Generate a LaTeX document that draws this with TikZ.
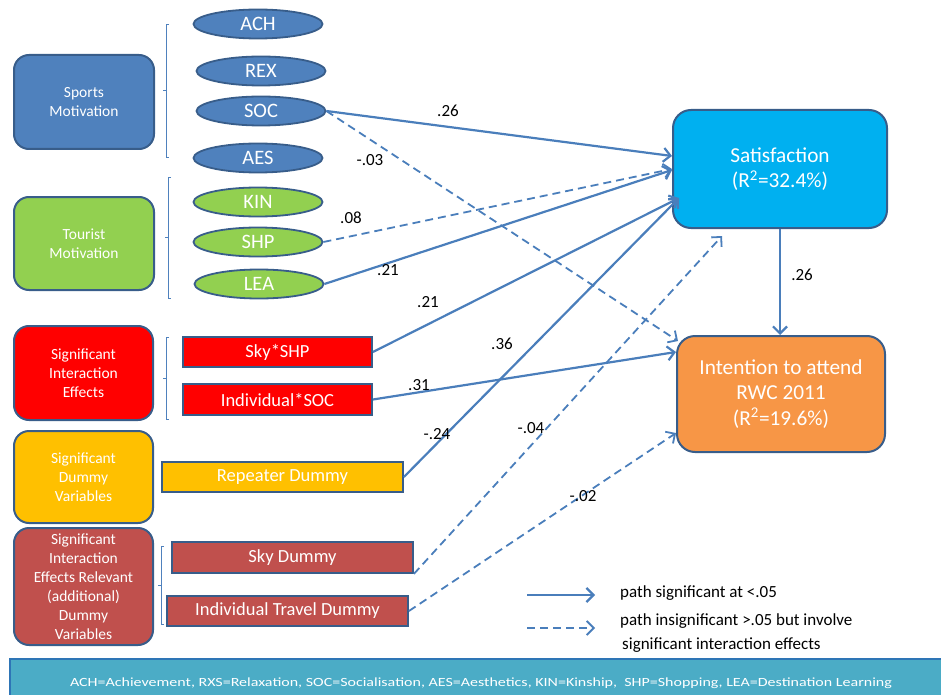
\documentclass[tikz,border=0pt]{standalone}
\usepackage{fontspec}
\setmainfont{Carlito}
\usetikzlibrary{arrows.meta,shapes.geometric,calc}

\definecolor{sportsblue}{HTML}{4F81BD}
\definecolor{edgeblue}{HTML}{385D8A}
\definecolor{touristgreen}{HTML}{92D050}
\definecolor{effectred}{HTML}{FF0000}
\definecolor{dummyyellow}{HTML}{FFC000}
\definecolor{brick}{HTML}{C0504D}
\definecolor{satcyan}{HTML}{00B0F0}
\definecolor{intorange}{HTML}{F79646}
\definecolor{keyteal}{HTML}{4BACC6}
\definecolor{keyedge}{HTML}{2E75B6}
\definecolor{pathblue}{HTML}{4A7EBB}

\tikzset{
  group/.style={rectangle, rounded corners=15pt, draw=edgeblue, line width=2pt,
    text=white, align=center, font=\fontsize{15.5}{19}\selectfont,
    minimum width=140pt, inner sep=0pt},
  item/.style={ellipse, draw=edgeblue, line width=1.8pt, fill=sportsblue,
    text=white, font=\fontsize{20.5}{23}\selectfont,
    minimum width=129pt, minimum height=29pt, inner sep=0pt},
  factor/.style={rectangle, draw=edgeblue, line width=1.8pt, text=white,
    font=\fontsize{18.5}{22}\selectfont, minimum height=30pt, inner sep=0pt},
  outcome/.style={rectangle, rounded corners=18pt, draw=edgeblue, line width=2pt,
    text=white, align=center, font=\fontsize{21.3}{25.5}\selectfont, inner sep=0pt},
  coef/.style={font=\fontsize{17}{20}\selectfont, text=black, inner sep=0pt},
  legendtext/.style={font=\fontsize{17}{20}\selectfont, text=black, inner sep=0pt, anchor=west},
  brace/.style={draw=sportsblue, line width=0.9pt},
  sigpath/.style={draw=pathblue, line width=2.2pt,
    -{Straight Barb[length=7pt,width=14pt]}},
  nsigpath/.style={sigpath, line width=1.8pt, dash pattern=on 8pt off 5pt},
}

\begin{document}
\begin{tikzpicture}[x=1pt,y=-1pt]
\useasboundingbox (0,0) rectangle (941,695);

% construct boxes on the left
\node[group, fill=sportsblue, minimum height=94pt] (sports) at (84,102) {Sports\\Motivation};
\node[group, fill=touristgreen, minimum height=93pt] (tourist) at (84,243.5) {Tourist\\Motivation};
\node[group, fill=effectred, minimum width=139pt, minimum height=94pt] (interact) at (83.5,373) {Significant\\Interaction\\Effects};
\node[group, fill=dummyyellow, minimum width=139pt, minimum height=92pt] (dummies) at (83.5,477) {Significant\\Dummy\\Variables};
\node[group, fill=brick, minimum width=139pt, minimum height=117pt] (relevant) at (83.5,586.5) {Significant\\Interaction\\Effects Relevant\\(additional)\\Dummy\\Variables};

% braces grouping the indicators
\draw[brace] (169,24) -- (166,24) -- (166,157) -- (169,157);
\draw[brace] (166,90) -- (163,90);
\draw[brace] (171,177) -- (168,177) -- (168,298) -- (171,298);
\draw[brace] (168,237) -- (165,237);
\draw[brace] (169,337) -- (166,337) -- (166,419) -- (169,419);
\draw[brace] (166,378) -- (163,378);
\draw[brace] (164,546) -- (161,546) -- (161,624) -- (164,624);
\draw[brace] (161,585) -- (158,585);

% motivation dimensions
\node[item] (ach) at (258,24) {ACH};
\node[item] (rex) at (261,71) {REX};
\node[item] (soc) at (261,111) {SOC};
\node[item] (aes) at (258,158) {AES};
\node[item, fill=touristgreen] (kin) at (258,202) {KIN};
\node[item, fill=touristgreen] (shp) at (258,242) {SHP};
\node[item, fill=touristgreen] (lea) at (259,284) {LEA};

% interaction terms and dummies
\node[factor, fill=effectred, minimum width=189pt] (skyshp) at (277.5,352) {Sky*SHP};
\node[factor, fill=effectred, minimum width=189pt, minimum height=31pt] (indsoc) at (277.5,399.5) {Individual*SOC};
\node[factor, fill=dummyyellow, minimum width=241pt] (repeater) at (282.5,477) {Repeater Dummy};
\node[factor, fill=brick, minimum width=241pt, minimum height=31pt] (skyd) at (292.5,557.5) {Sky Dummy};
\node[factor, fill=brick, minimum width=241pt] (travel) at (287.5,611) {Individual Travel Dummy};

% outcomes
\node[outcome, fill=satcyan, minimum width=214pt, minimum height=118pt] (sat) at (780,169) {Satisfaction\\(R\textsuperscript{2}=32.4\%)};
\node[outcome, fill=intorange, minimum width=208pt, minimum height=116pt] (int) at (781,394) {Intention to attend\\RWC 2011\\(R\textsuperscript{2}=19.6\%)};

% paths into satisfaction
\draw[sigpath] (soc.east) -- ($(sat.west)+(0,-13)$);
\draw[nsigpath] (shp.east) -- (sat.west);
\draw[sigpath] (lea.east) -- ($(sat.west)+(0,1)$);
\draw[sigpath] (skyshp.east) -- ($(sat.west)+(7,29)$);
\draw[sigpath] (repeater.east) -- ($(sat.west)+(7,29)$);
\draw[nsigpath] (skyd.south east) -- ($(sat.south)+(-58,7)$);

% paths into intention
\draw[nsigpath] (soc.east) -- ($(int.west)+(2,-53)$);
\draw[sigpath] (indsoc.east) -- ($(int.west)+(0,-42)$);
\draw[nsigpath] (travel.east) -- ($(int.west)+(0,39)$);
\draw[sigpath] (sat.south) -- (sat.south |- int.north);

% path coefficients
\node[coef] (c1) at (448,111) {.26};
\node[coef] (c2) at (370,160) {-.03};
\node[coef] (c3) at (351,218) {.08};
\node[coef] (c4) at (388,270) {.21};
\node[coef] (c5) at (428,302) {.21};
\node[coef] (c6) at (502,344) {.36};
\node[coef] (c7) at (419,385) {.31};
\node[coef] (c8) at (437,434) {-.24};
\node[coef] (c9) at (531,428) {-.04};
\node[coef] (c10) at (583,496) {-.02};
\node[coef] (c11) at (802,275) {.26};

% legend
\coordinate (ls1) at (527,595);
\coordinate (ls2) at (595,595);
\coordinate (ld1) at (527,628);
\coordinate (ld2) at (595,628);
\draw[sigpath] (ls1) -- (ls2);
\draw[nsigpath] (ld1) -- (ld2);
\node[legendtext] (l1) at (620,593) {path significant at <.05};
\node[legendtext] (l2) at (620,621) {path insignificant >.05 but involve};
\node[legendtext] (l3) at (622,645) {significant interaction effects};

% abbreviation key
\fill[keyteal] (10,659) rectangle (960,710);
\draw[keyedge, line width=2pt] (10,710) -- (10,659) -- (960,659);
\node[text=white, inner sep=0pt, font=\fontsize{12.5}{14}\selectfont] (key) at (481,683)
  {\scalebox{1.28}[1]{ACH=Achievement, RXS=Relaxation, SOC=Socialisation, AES=Aesthetics, KIN=Kinship,~ SHP=Shopping, LEA=Destination Learning}};
\end{tikzpicture}
\end{document}
